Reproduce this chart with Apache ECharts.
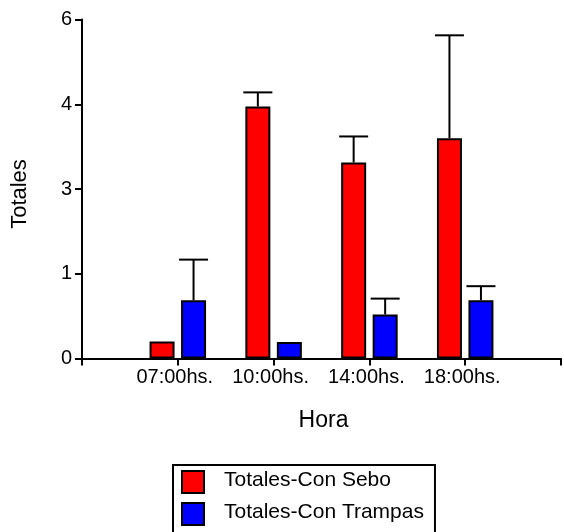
<!DOCTYPE html>
<html>
<head>
<meta charset="utf-8">
<script src="https://cdn.jsdelivr.net/npm/echarts@6/dist/echarts.min.js"></script>
<style>
html,body{margin:0;padding:0;background:#fff;}
#c{width:564px;height:532px;}
</style>
</head>
<body>
<div id="c"></div>
<script>
const horas = ["07:00hs.", "10:00hs.", "14:00hs.", "18:00hs."];
const conSebo = [0.3, 4.46, 3.47, 3.9];
const conSeboErr = [0, 0.25, 0.46, 1.82];
const conTrampas = [1.03, 0.29, 0.78, 1.03];
const conTrampasErr = [0.72, 0, 0.28, 0.25];
const seriesNames = ["Totales-Con Sebo", "Totales-Con Trampas"];
const seriesColors = ["#ff0000", "#0000ff"];

const FONT = "'Liberation Sans', Arial, sans-serif";
const FS = 20;
const NAME_FS = 22;
const LEG_FS = 21;
const BAR_W = 25;
const CENTER_DIST = 31.5;

const axisCats = [""].concat(horas, [""]);

function errSeries(vals, errs, offset) {
  return {
    type: 'custom',
    silent: true,
    z: 3,
    data: vals.map((v, i) => [i + 1, v, v + errs[i]]),
    renderItem: function (params, api) {
      const idx = api.value(0);
      const base = api.coord([idx, api.value(1)]);
      const top = api.coord([idx, api.value(2)]);
      if (Math.abs(base[1] - top[1]) < 0.5) return null;
      const x = base[0] + offset;
      const half = 14.5;
      const style = { stroke: '#000', lineWidth: 2 };
      return {
        type: 'group',
        children: [
          { type: 'line', shape: { x1: x, y1: base[1], x2: x, y2: top[1] }, style: style },
          { type: 'line', shape: { x1: x - half, y1: top[1], x2: x + half, y2: top[1] }, style: style }
        ]
      };
    }
  };
}

function measure(t, fs) {
  const c = document.createElement('canvas').getContext('2d');
  c.font = fs + "px 'Liberation Sans', Arial, sans-serif";
  return c.measureText(t).width;
}
const legLeft = 172, legTop = 464, swX = 181, sw = 22, rowPitch = 32, txtX = 224;
const legTextW = Math.max.apply(null, seriesNames.map(n => measure(n, LEG_FS)));
const legendGraphic = [
  {
    type: 'rect', left: legLeft, top: legTop,
    shape: { width: txtX - legLeft + legTextW + 10, height: 68 },
    style: { fill: '#fff', stroke: '#000', lineWidth: 2 }
  }
];
seriesNames.forEach((n, i) => {
  legendGraphic.push({
    type: 'rect', left: swX, top: legTop + 6 + i * rowPitch,
    shape: { width: sw, height: sw },
    style: { fill: seriesColors[i], stroke: '#000', lineWidth: 2 }
  });
  legendGraphic.push({
    type: 'text', left: txtX, top: legTop + 6 + i * rowPitch + sw / 2 - LEG_FS / 2 - 1,
    style: { text: n, fill: '#000', font: LEG_FS + "px 'Liberation Sans', Arial, sans-serif" }
  });
});

const chart = echarts.init(document.getElementById('c'));
const off = CENTER_DIST / 2;
chart.setOption({
  backgroundColor: '#fff',
  animation: false,
  textStyle: { fontFamily: FONT },
  grid: { left: 82, top: 19.5, width: 490, bottom: 173.5, containLabel: false },
  graphic: legendGraphic,
  xAxis: {
    type: 'category',
    data: axisCats,
    boundaryGap: false,
    name: 'Hora',
    nameLocation: 'middle',
    nameGap: 51,
    nameTextStyle: { fontSize: 23, color: '#000', fontFamily: FONT, padding: [0, 0, 0, 4] },
    axisLine: { lineStyle: { color: '#000', width: 2 } },
    axisTick: { show: true, length: 7, lineStyle: { color: '#000', width: 2 } },
    axisLabel: { fontSize: FS, color: '#000', fontFamily: FONT, margin: 9, interval: 0, padding: [0, 6, 0, 0] },
    splitLine: { show: false }
  },
  yAxis: {
    type: 'value',
    min: 0,
    max: 6,
    interval: 1.5,
    name: 'Totales',
    nameLocation: 'middle',
    nameGap: 51,
    nameTextStyle: { fontSize: NAME_FS, color: '#000', fontFamily: FONT, padding: [0, 10, 0, 0] },
    axisLine: { show: true, lineStyle: { color: '#000', width: 2 } },
    axisTick: { show: true, length: 7, lineStyle: { color: '#000', width: 2 } },
    axisLabel: {
      fontSize: FS, color: '#000', fontFamily: FONT, margin: 10,
      formatter: v => String(Math.trunc(v))
    },
    splitLine: { show: false }
  },
  series: [
    {
      name: seriesNames[0],
      type: 'bar',
      barWidth: BAR_W,
      barGap: ((CENTER_DIST - BAR_W) / BAR_W * 100) + '%',
      z: 2,
      itemStyle: { color: seriesColors[0], borderColor: '#000', borderWidth: 2 },
      data: conSebo.map((v, i) => [i + 1, v])
    },
    {
      name: seriesNames[1],
      type: 'bar',
      barWidth: BAR_W,
      barGap: ((CENTER_DIST - BAR_W) / BAR_W * 100) + '%',
      z: 2,
      itemStyle: { color: seriesColors[1], borderColor: '#000', borderWidth: 2 },
      data: conTrampas.map((v, i) => [i + 1, v])
    },
    errSeries(conSebo, conSeboErr, -off),
    errSeries(conTrampas, conTrampasErr, off)
  ]
});
</script>
</body>
</html>
